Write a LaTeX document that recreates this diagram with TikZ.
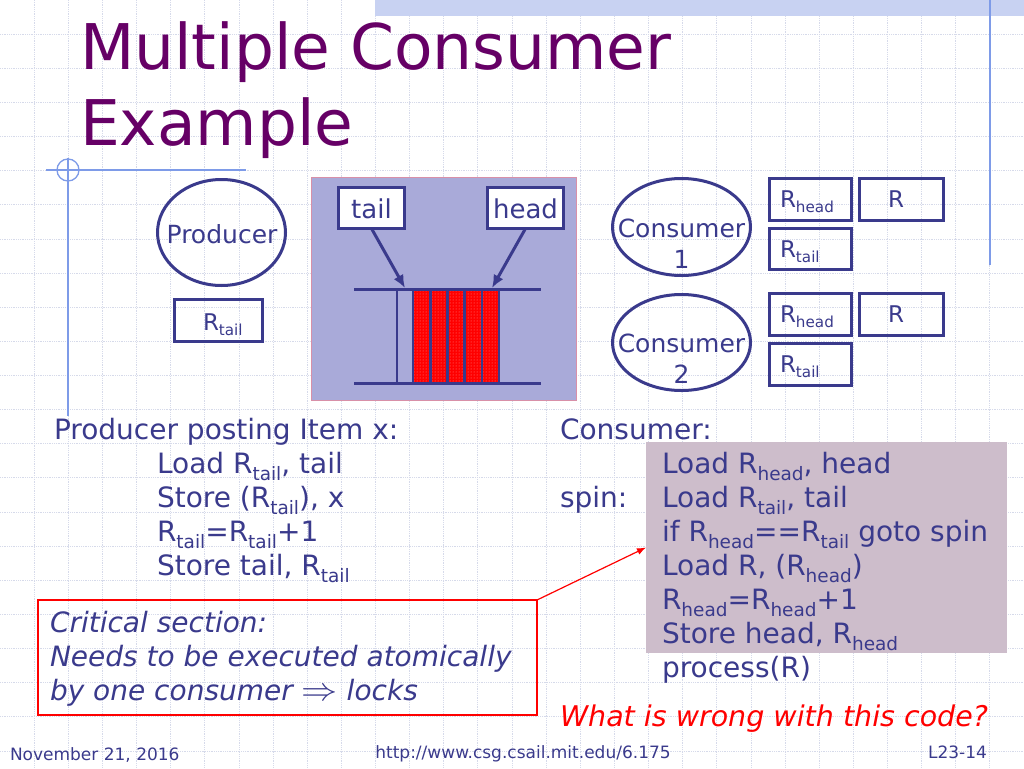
\documentclass[tikz,border=0pt]{standalone}
\usepackage{fontspec}
\usepackage{graphicx}
\setmainfont{DejaVu Sans}
\usetikzlibrary{shapes.geometric,arrows.meta,patterns}
\definecolor{navy}{HTML}{3A3A8C}
\definecolor{titlec}{HTML}{660066}
\definecolor{gridc}{HTML}{D6DAEA}
\definecolor{bandc}{HTML}{C8D2F2}
\definecolor{decoc}{HTML}{7E9BE8}
\definecolor{panelc}{HTML}{A9AAD9}
\definecolor{panelb}{HTML}{D890A8}
\definecolor{codec}{HTML}{CDBDCB}
\definecolor{redc}{HTML}{FF0000}
\newcommand\sbs[1]{\raisebox{-0.26em}{\scalebox{0.66}{#1}}}
\begin{document}
\begin{tikzpicture}[x=1pt,y=-1pt,
  every node/.style={inner sep=0pt, outer sep=0pt},
  txt/.style={anchor=base west, text=navy, font=\fontsize{28}{34}\selectfont},
  itx/.style={anchor=base west, text=navy, font=\fontsize{28}{34}\selectfont\itshape},
  regtxt/.style={text=navy, font=\fontsize{23}{28}\selectfont},
  regbox/.style={draw=navy, line width=3pt, rectangle},
  ell/.style={draw=navy, line width=3pt, ellipse},
  gridline/.style={draw=gridc, densely dotted, line width=0.8pt},
  deco/.style={draw=decoc, line width=1.3pt},
  ptr/.style={draw=navy, line width=3pt, -{Latex[length=13pt,width=11pt]}},
  foot/.style={text=navy, font=\fontsize{17}{20}\selectfont}]
\useasboundingbox (0,0) rectangle (1024,768);
\fill[white] (0,0) rectangle (1024,768);
% grid
\foreach \i in {1,...,29} \draw[gridline] (\i*34.1333,0) -- (\i*34.1333,768);
\foreach \j in {1,...,22} \draw[gridline] (0,\j*34.1333) -- (1024,\j*34.1333);
% top band and decorations
\fill[bandc] (375,0) rectangle (1024,16);
\draw[deco] (990,0) -- (990,265);
\draw[deco] (46,170) -- (246,170);
\draw[deco] (68,170) circle (11);
\draw[deco] (68,158) -- (68,416);
% title
\node[anchor=base west, text=titlec, font=\fontsize{63}{75}\selectfont] (t1) at (80,70) {Multiple Consumer};
\node[anchor=base west, text=titlec, font=\fontsize{63}{75}\selectfont] (t2) at (80,145) {Example};
% producer
\node[ell, minimum width=128pt, minimum height=106pt] (prod) at (221.5,232.5) {};
\node[anchor=base, text=navy, font=\fontsize{25}{30}\selectfont] (prodtxt) at (222,243) {Producer};
\node[regbox, minimum width=88pt, minimum height=42pt] (prbox) at (218.5,320.5) {};
\node[regtxt, anchor=base west] (prtxt) at (203,330) {R\sbs{tail}};
% queue panel
\node[fill=panelc, draw=panelb, line width=0.8pt, minimum width=265pt, minimum height=223pt] (panel) at (443.5,288.5) {};
\node[regbox, fill=white, minimum width=66pt, minimum height=41pt] (tail) at (371.5,208) {};
\node[anchor=base, text=navy, font=\fontsize{26}{30}\selectfont] (tailtxt) at (371.5,218) {tail};
\node[regbox, fill=white, minimum width=76pt, minimum height=41pt] (head) at (525.5,208) {};
\node[anchor=base, text=navy, font=\fontsize{26}{30}\selectfont] (headtxt) at (525.5,218) {head};
\fill[red] (413,289) rectangle (499,383);
\fill[pattern=dots, pattern color=white!55!red] (413,289) rectangle (499,383);
\foreach \x in {397,413,430.2,447.4,464.6,481.8,499} \draw[navy, line width=2.6pt] (\x,289) -- (\x,383);
\draw[navy, line width=3pt] (354,289) -- (541,289);
\draw[navy, line width=3pt] (354,383) -- (541,383);
\coordinate (tailptr) at (405,288);
\coordinate (headptr) at (492,288);
\draw[ptr] (tail.south) -- (tailptr);
\draw[ptr] (head.south) -- (headptr);
% consumers
\node[ell, minimum width=138pt, minimum height=97pt] (cons1) at (681.5,227) {};
\node[anchor=base, text=navy, font=\fontsize{25}{30}\selectfont] (cons1a) at (681.5,237) {Consumer};
\node[anchor=base, text=navy, font=\fontsize{25}{30}\selectfont] (cons1b) at (681.5,268) {1};
\node[ell, minimum width=138pt, minimum height=96pt] (cons2) at (681.5,342.5) {};
\node[anchor=base, text=navy, font=\fontsize{25}{30}\selectfont] (cons2a) at (681.5,352.5) {Consumer};
\node[anchor=base, text=navy, font=\fontsize{25}{30}\selectfont] (cons2b) at (681.5,383.5) {2};
\node[regbox, minimum width=82pt, minimum height=42pt] (c1h) at (810.5,199.5) {};
\node[regbox, minimum width=84pt, minimum height=42pt] (c1r) at (901.5,199.5) {};
\node[regbox, minimum width=82pt, minimum height=41pt] (c1t) at (810.5,249) {};
\node[regbox, minimum width=82pt, minimum height=42pt] (c2h) at (810.5,314.5) {};
\node[regbox, minimum width=84pt, minimum height=42pt] (c2r) at (901.5,314.5) {};
\node[regbox, minimum width=82pt, minimum height=42pt] (c2t) at (810.5,364.5) {};
\node[regtxt, anchor=base west] (c1htxt) at (780,207) {R\sbs{head}};
\node[regtxt, anchor=base] (c1rtxt) at (896,207) {R};
\node[regtxt, anchor=base west] (c1ttxt) at (780,257) {R\sbs{tail}};
\node[regtxt, anchor=base west] (c2htxt) at (780,322) {R\sbs{head}};
\node[regtxt, anchor=base] (c2rtxt) at (896,322) {R};
\node[regtxt, anchor=base west] (c2ttxt) at (780,372) {R\sbs{tail}};
% producer code
\node[txt] (p0) at (54,439) {Producer posting Item x:};
\node[txt] (p1) at (157,473) {Load R\sbs{tail}, tail};
\node[txt] (p2) at (157,507) {Store (R\sbs{tail}), x};
\node[txt] (p3) at (157,541) {R\sbs{tail}=R\sbs{tail}+1};
\node[txt] (p4) at (157,575) {Store tail, R\sbs{tail}};
% critical section
\node[draw=redc, line width=1.2pt, minimum width=499pt, minimum height=115pt] (crit) at (287.5,657.5) {};
\node[itx] (cr1) at (50,632) {Critical section:};
\node[itx] (cr2) at (50,666) {Needs to be executed atomically};
\node[itx] (cr3) at (50,700) {by one consumer \scalebox{1.45}[1.3]{$\Rightarrow$} locks};
% consumer code
\node[fill=codec, minimum width=361pt, minimum height=211pt] (code) at (826.5,547.5) {};
\node[txt] (k0) at (560,439) {Consumer:};
\node[txt] (kspin) at (560,507) {spin:};
\node[txt] (k1) at (662,473) {Load R\sbs{head}, head};
\node[txt] (k2) at (662,507) {Load R\sbs{tail}, tail};
\node[txt] (k3) at (662,541) {if R\sbs{head}==R\sbs{tail} goto spin};
\node[txt] (k4) at (662,575) {Load R, (R\sbs{head})};
\node[txt] (k5) at (662,609) {R\sbs{head}=R\sbs{head}+1};
\node[txt] (k6) at (662,643) {Store head, R\sbs{head}};
\node[txt] (k7) at (662,677) {process(R)};
\draw[draw=redc, line width=1.2pt, -{Latex[length=9pt,width=7pt]}] (crit.north east) -- (code.west);
\node[anchor=base west, text=redc, font=\fontsize{28.5}{30}\selectfont\itshape] (wrong) at (560,726) {What is wrong with this code?};
% footer
\node[foot, anchor=base west] (date) at (10,760) {November 21, 2016};
\node[foot, anchor=base] (url) at (523,758) {http://www.csg.csail.mit.edu/6.175};
\node[foot, anchor=base east] (slide) at (987,758) {L23-14};
\end{tikzpicture}
\end{document}
